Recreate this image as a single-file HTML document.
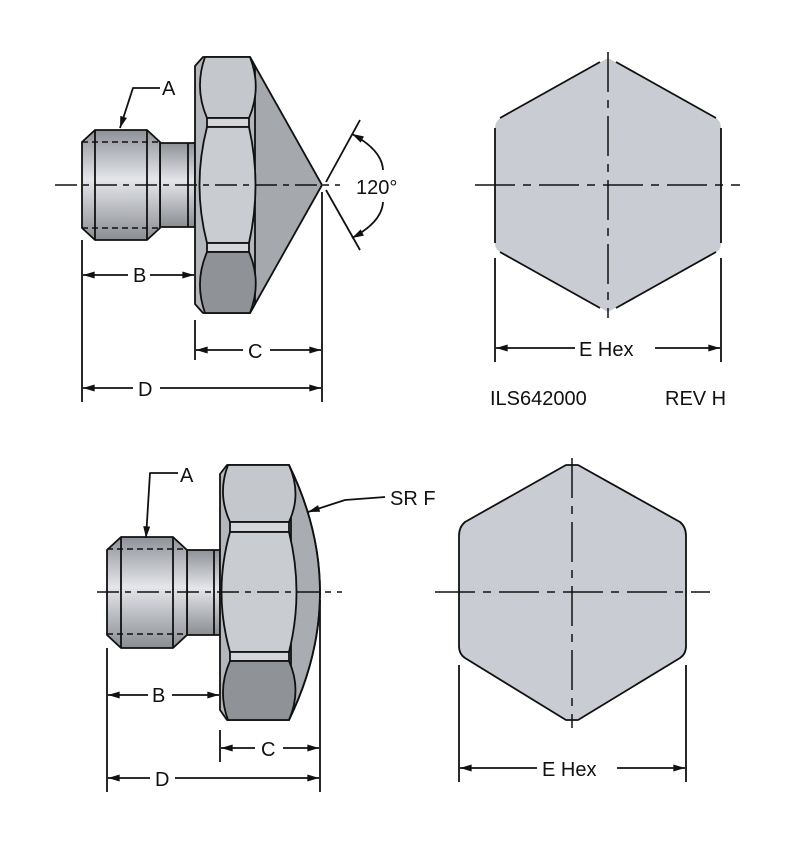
<!DOCTYPE html>
<html><head><meta charset="utf-8"><style>
html,body{margin:0;padding:0;background:#fff;}
svg{display:block;font-family:"Liberation Sans",sans-serif;}
text{font-size:20px;fill:#111;}
</style></head><body>
<svg width="791" height="844" viewBox="0 0 791 844" xmlns="http://www.w3.org/2000/svg">
<defs>
<marker id="ar" viewBox="0 0 10 6" refX="10" refY="3" markerWidth="14" markerHeight="7" orient="auto-start-reverse" markerUnits="userSpaceOnUse"><path d="M0,0 L10,3 L0,6z" fill="#111"/></marker>
<linearGradient id="cyl" x1="0" y1="0" x2="0" y2="1">
<stop offset="0" stop-color="#8e9197"/><stop offset="0.45" stop-color="#e4e6ea"/><stop offset="1" stop-color="#8a8d92"/></linearGradient>
</defs>
<g stroke="#111" stroke-width="1.8" stroke-linejoin="round">
<path d="M250,57 L322,185 L250,313 Z" fill="#a5a8ad"/>
<rect x="160" y="143" width="35" height="84" fill="url(#cyl)"/>
<line x1="188" y1="143" x2="188" y2="227"/>
<path d="M82,142 L95,130 L147,130 L160,142 L160,228 L147,240 L95,240 L82,228 Z" fill="url(#cyl)"/>
<line x1="95" y1="130" x2="95" y2="240"/><line x1="147" y1="130" x2="147" y2="240"/>
<line x1="82" y1="142" x2="160" y2="142" stroke-dasharray="6,4" stroke-width="1.4"/>
<line x1="82" y1="228" x2="160" y2="228" stroke-dasharray="6,4" stroke-width="1.4"/>
<path d="M195,66 L203,57 L250,57 L255,66 L255,304 L250,313 L203,313 L195,304 Z" fill="#b4b7bc"/>
<path d="M205,57 L250,57 Q262,88 249,118 L207,118 Q194,88 205,57 Z" fill="#c4c7cc"/>
<rect x="207" y="118" width="42" height="9" fill="#d4d6da"/>
<path d="M207,127 L249,127 Q262,185 249,243 L207,243 Q192,185 207,127 Z" fill="#c9ccd1"/>
<rect x="207" y="243" width="42" height="9" fill="#d4d6da"/>
<path d="M207,252 L249,252 Q262,282 250,313 L205,313 Q194,282 207,252 Z" fill="#8f9297"/>
<line x1="326" y1="182" x2="360" y2="120"/><line x1="326" y1="190" x2="360" y2="250"/>
<path d="M352,134 Q382,150 383,170" fill="none" marker-start="url(#ar)"/>
<path d="M383,202 Q382,222 352,238" fill="none" marker-end="url(#ar)"/>
<path d="M160,88 L133,88 L120,128" fill="none" marker-end="url(#ar)"/>
<line x1="82" y1="240" x2="82" y2="402"/><line x1="322" y1="192" x2="322" y2="402"/><line x1="195" y1="320" x2="195" y2="360"/>
<line x1="83" y1="275" x2="128" y2="275" marker-start="url(#ar)"/><line x1="150" y1="275" x2="194" y2="275" marker-end="url(#ar)"/>
<line x1="196" y1="350" x2="243" y2="350" marker-start="url(#ar)"/><line x1="270" y1="350" x2="321" y2="350" marker-end="url(#ar)"/>
<line x1="83" y1="388" x2="133" y2="388" marker-start="url(#ar)"/><line x1="160" y1="388" x2="321" y2="388" marker-end="url(#ar)"/>
<line x1="55" y1="185" x2="340" y2="185" stroke-dasharray="22,6,6,6" stroke-width="1.5"/>
<path d="M608,58 L715,117 Q721,121 721,128 L721,243 Q721,250 715,253 L608,312 L502,253 Q495,250 495,243 L495,128 Q495,121 502,117 Z" fill="#c9ccd2" stroke="none"/>
<path d="M600,62 L500,118 M616,62 L716,118 M721,128 L721,243 M495,128 L495,243 M500,252 L600,308 M716,252 L616,308" fill="none"/>
<line x1="475" y1="185" x2="740" y2="185" stroke-dasharray="40,8,8,8" stroke-width="1.5"/>
<line x1="608" y1="52" x2="608" y2="318" stroke-dasharray="40,8,8,8" stroke-width="1.5"/>
<line x1="495" y1="258" x2="495" y2="362"/><line x1="721" y1="258" x2="721" y2="362"/>
<line x1="496" y1="348" x2="575" y2="348" marker-start="url(#ar)"/><line x1="655" y1="348" x2="720" y2="348" marker-end="url(#ar)"/>
<path d="M289,465 Q351,592 289,720 Z" fill="#a9acb1"/>
<rect x="187" y="550" width="33" height="85" fill="url(#cyl)"/>
<line x1="214" y1="550" x2="214" y2="635"/>
<path d="M107,550 L121,537 L173,537 L187,550 L187,635 L173,648 L121,648 L107,635 Z" fill="url(#cyl)"/>
<line x1="121" y1="537" x2="121" y2="648"/><line x1="173" y1="537" x2="173" y2="648"/>
<line x1="107" y1="549" x2="187" y2="549" stroke-dasharray="6,4" stroke-width="1.4"/>
<line x1="107" y1="634" x2="187" y2="634" stroke-dasharray="6,4" stroke-width="1.4"/>
<path d="M220,474 L227,465 L289,465 L291,474 L291,710 L289,720 L227,720 L220,710 Z" fill="#b4b7bc"/>
<path d="M228,465 L289,465 Q302,494 289,522 L230,522 Q217,494 228,465 Z" fill="#c4c7cc"/>
<rect x="230" y="522" width="59" height="10" fill="#d4d6da"/>
<path d="M230,532 L289,532 Q304,592 289,652 L230,652 Q213,592 230,532 Z" fill="#c9ccd1"/>
<rect x="230" y="652" width="59" height="9" fill="#d4d6da"/>
<path d="M230,661 L289,661 Q302,690 289,720 L228,720 Q217,690 230,661 Z" fill="#8f9297"/>
<path d="M289,465 Q351,592 289,720" fill="none"/>
<path d="M178,473 L150,473 L146,538" fill="none" marker-end="url(#ar)"/>
<path d="M385,497 L345,500 L308,512" fill="none" marker-end="url(#ar)"/>
<line x1="107" y1="648" x2="107" y2="792"/><line x1="320" y1="600" x2="320" y2="792"/><line x1="220" y1="730" x2="220" y2="762"/>
<line x1="108" y1="695" x2="148" y2="695" marker-start="url(#ar)"/><line x1="172" y1="695" x2="219" y2="695" marker-end="url(#ar)"/>
<line x1="221" y1="748" x2="255" y2="748" marker-start="url(#ar)"/><line x1="283" y1="748" x2="319" y2="748" marker-end="url(#ar)"/>
<line x1="108" y1="778" x2="150" y2="778" marker-start="url(#ar)"/><line x1="175" y1="778" x2="319" y2="778" marker-end="url(#ar)"/>
<line x1="97" y1="592" x2="342" y2="592" stroke-dasharray="22,6,6,6" stroke-width="1.5"/>
<path d="M566,465 L578,465 L680,522 Q686,527 686,536 L686,646 Q686,654 680,658 L578,720 L566,720 L465,658 Q459,654 459,646 L459,536 Q459,527 465,522 Z" fill="#c9ccd2"/>
<line x1="435" y1="592" x2="710" y2="592" stroke-dasharray="40,8,8,8" stroke-width="1.5"/>
<line x1="572" y1="458" x2="572" y2="728" stroke-dasharray="40,8,8,8" stroke-width="1.5"/>
<line x1="459" y1="665" x2="459" y2="782"/><line x1="686" y1="665" x2="686" y2="782"/>
<line x1="460" y1="768" x2="537" y2="768" marker-start="url(#ar)"/><line x1="617" y1="768" x2="685" y2="768" marker-end="url(#ar)"/>
</g>
<text x="162" y="95">A</text>
<text x="133" y="282">B</text>
<text x="248" y="358">C</text>
<text x="138" y="396">D</text>
<text x="356" y="194">120°</text>
<text x="579" y="356">E Hex</text>
<text x="490" y="405">ILS642000</text>
<text x="665" y="405">REV H</text>
<text x="180" y="482">A</text>
<text x="152" y="702">B</text>
<text x="261" y="756">C</text>
<text x="155" y="786">D</text>
<text x="390" y="505">SR F</text>
<text x="542" y="776">E Hex</text>
</svg>
</body></html>
